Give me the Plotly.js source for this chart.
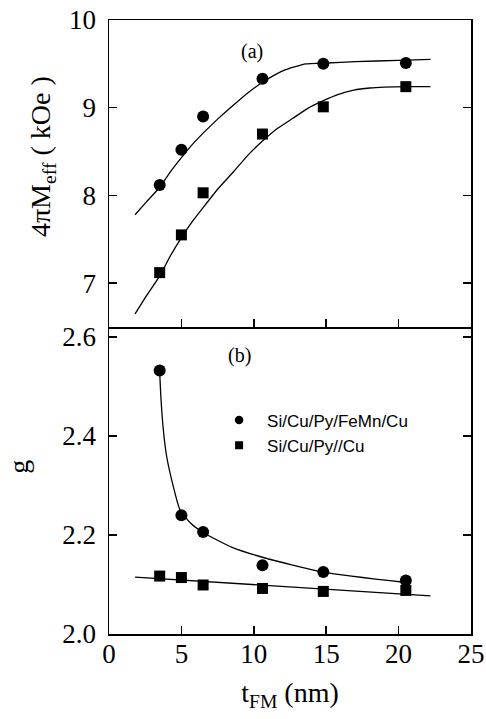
<!DOCTYPE html>
<html>
<head>
<meta charset="utf-8">
<script src="https://cdn.plot.ly/plotly-3.0.1.min.js"></script>
<style>html,body{margin:0;padding:0;background:#fff;}#chart{width:486px;height:719px;}</style>
</head>
<body>
<div id="chart"></div>
<script>
// thickness of ferromagnetic layer (nm)
const tFM = [3.5, 5.0, 6.5, 10.6, 14.8, 20.5];

// (a) effective magnetization 4πMeff (kOe)
const meffFeMn = [8.12, 8.52, 8.90, 9.33, 9.50, 9.51];
const meffCu   = [7.12, 7.55, 8.03, 8.70, 9.01, 9.24];

// (a) fit curves
const fitMeffFeMnX = [1.8, 2.6, 3.5, 4.2, 5.0, 5.7, 6.5, 7.5, 8.6, 9.6, 10.6, 11.3, 12.0, 12.8, 13.6, 15.0, 17.0, 20.0, 22.2];
const fitMeffFeMnY = [7.78, 7.93, 8.09, 8.26, 8.43, 8.57, 8.71, 8.87, 9.03, 9.17, 9.29, 9.36, 9.42, 9.465, 9.50, 9.51, 9.525, 9.54, 9.55];
const fitMeffCuX   = [1.8, 2.6, 3.5, 4.2, 5.0, 5.7, 6.5, 7.5, 8.6, 9.6, 10.6, 11.6, 12.7, 13.7, 14.8, 15.8, 16.9, 18.0, 19.0, 20.5, 22.2];
const fitMeffCuY   = [6.65, 6.86, 7.08, 7.30, 7.52, 7.69, 7.86, 8.07, 8.27, 8.46, 8.62, 8.76, 8.88, 8.99, 9.08, 9.15, 9.20, 9.225, 9.235, 9.24, 9.24];

// (b) g factor
const gFeMn = [2.532, 2.240, 2.206, 2.139, 2.125, 2.108];
const gCu   = [2.117, 2.114, 2.099, 2.092, 2.086, 2.088];

// (b) fit curves
const fitGFeMnX = [3.5, 3.58, 3.75, 3.98, 4.44, 4.9, 5.7, 6.5, 8.5, 10.6, 14.8, 20.5];
const fitGFeMnY = [2.53, 2.48, 2.413, 2.359, 2.298, 2.251, 2.222, 2.205, 2.175, 2.155, 2.125, 2.104];
const fitGCuX = [1.8, 22.2];
const fitGCuY = [2.115, 2.077];

// tick labels
const xTicks = [0, 5, 10, 15, 20, 25];
const meffTicks = [7, 8, 9, 10];
const gTicks = [2.0, 2.2, 2.4, 2.6];

const seriesNames = ['Si/Cu/Py/FeMn/Cu', 'Si/Cu/Py//Cu'];

const serif = 'Liberation Serif, Times New Roman, serif';
const sans = 'Liberation Sans, Arial, sans-serif';
const lineStyle = {color: '#000', width: 1.3};

const traces = [
  {x: fitMeffFeMnX, y: fitMeffFeMnY, xaxis: 'x2', yaxis: 'y2', mode: 'lines', line: Object.assign({shape: 'spline', smoothing: 0.25}, lineStyle), showlegend: false, hoverinfo: 'skip'},
  {x: fitMeffCuX, y: fitMeffCuY, xaxis: 'x2', yaxis: 'y2', mode: 'lines', line: Object.assign({shape: 'spline', smoothing: 0.3}, lineStyle), showlegend: false, hoverinfo: 'skip'},
  {x: tFM, y: meffFeMn, xaxis: 'x2', yaxis: 'y2', mode: 'markers', marker: {symbol: 'circle', size: 12, color: '#000'}, name: seriesNames[0], showlegend: false},
  {x: tFM, y: meffCu, xaxis: 'x2', yaxis: 'y2', mode: 'markers', marker: {symbol: 'square', size: 11, color: '#000'}, name: seriesNames[1], showlegend: false},

  {x: fitGFeMnX, y: fitGFeMnY, xaxis: 'x', yaxis: 'y', mode: 'lines', line: Object.assign({shape: 'spline', smoothing: 0.6}, lineStyle), showlegend: false, hoverinfo: 'skip'},
  {x: fitGCuX, y: fitGCuY, xaxis: 'x', yaxis: 'y', mode: 'lines', line: lineStyle, showlegend: false, hoverinfo: 'skip'},
  {x: tFM, y: gFeMn, xaxis: 'x', yaxis: 'y', mode: 'markers', marker: {symbol: 'circle', size: 12, color: '#000'}, name: seriesNames[0], showlegend: false},
  {x: tFM, y: gCu, xaxis: 'x', yaxis: 'y', mode: 'markers', marker: {symbol: 'square', size: 11, color: '#000'}, name: seriesNames[1], showlegend: false},

  // legend entries (smaller symbols, as in the original legend)
  {x: [null], y: [null], xaxis: 'x', yaxis: 'y', mode: 'markers', marker: {symbol: 'circle', size: 8.5, color: '#000'}, name: seriesNames[0], showlegend: true},
  {x: [null], y: [null], xaxis: 'x', yaxis: 'y', mode: 'markers', marker: {symbol: 'square', size: 8, color: '#000'}, name: seriesNames[1], showlegend: true}
];

const axisCommon = {
  showgrid: false, zeroline: false, showline: true, linecolor: '#000', linewidth: 1.5,
  ticks: 'inside', ticklen: 8, tickwidth: 1.5, tickcolor: '#000',
  tickfont: {family: serif, size: 27, color: '#000'}
};

const layout = {
  width: 486, height: 719,
  margin: {l: 109, r: 15, t: 20, b: 85},
  paper_bgcolor: '#fff', plot_bgcolor: '#fff',
  showlegend: true,
  legend: {x: 0.282, y: 0.377, xanchor: 'left', yanchor: 'top', bgcolor: 'rgba(0,0,0,0)', itemwidth: 46,
           font: {family: sans, size: 17, color: '#000'}, tracegroupgap: 0},
  xaxis: Object.assign({}, axisCommon, {
    domain: [0, 1], anchor: 'y', range: [0, 25], tickvals: xTicks, mirror: false, ticklabelstandoff: -5,
    title: {text: 't<sub>FM</sub> (nm)', font: {family: serif, size: 28, color: '#000'}, standoff: 14}
  }),
  yaxis: Object.assign({}, axisCommon, {
    domain: [0, 0.5], anchor: 'x', range: [2.0, 2.62], tickvals: gTicks, tickformat: '.1f', mirror: 'ticks',
    ticklabelstandoff: 6
  }),
  xaxis2: Object.assign({}, axisCommon, {
    domain: [0, 1], anchor: 'y2', matches: 'x', range: [0, 25], tickvals: xTicks, showticklabels: false, mirror: true
  }),
  yaxis2: Object.assign({}, axisCommon, {
    domain: [0.5, 1], anchor: 'x2', range: [6.5, 10], tickvals: meffTicks, mirror: 'ticks',
    ticklabelstandoff: 6
  }),
  annotations: [
    // y-axis titles
    {xref: 'paper', yref: 'paper', x: -0.182, y: 0.777, xanchor: 'center', yanchor: 'middle', textangle: -90,
     text: '4πM<sub>eff</sub> ( kOe )', showarrow: false, font: {family: serif, size: 28, color: '#000'}},
    {xref: 'paper', yref: 'paper', x: -0.251, y: 0.2728, xanchor: 'center', yanchor: 'middle', textangle: -90,
     text: 'g', showarrow: false, font: {family: serif, size: 28, color: '#000'}},
    // panel labels
    {xref: 'x2', yref: 'y2', x: 9.88, y: 9.64, text: '(a)', showarrow: false, font: {family: serif, size: 20, color: '#000'}},
    {xref: 'x', yref: 'y', x: 8.98, y: 2.562, text: '(b)', showarrow: false, font: {family: serif, size: 20, color: '#000'}}
  ]
};

Plotly.newPlot('chart', traces, layout, {displayModeBar: false, staticPlot: true});
</script>
</body>
</html>
